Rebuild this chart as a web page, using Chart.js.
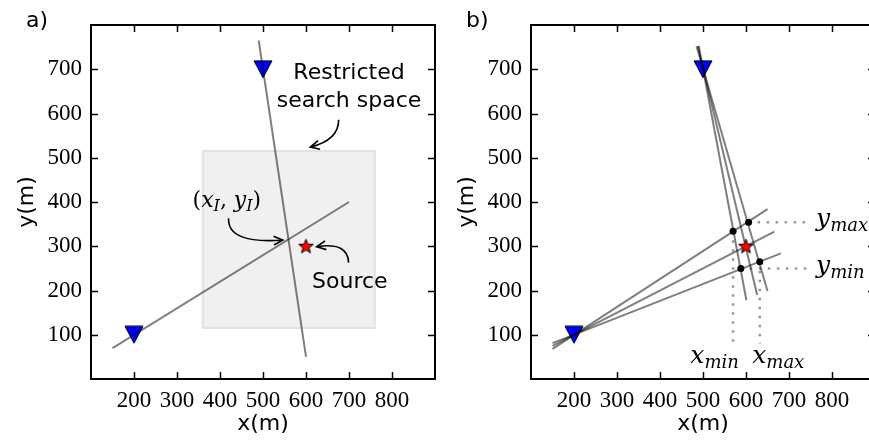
<!DOCTYPE html>
<html>
<head>
<meta charset="utf-8">
<script src="https://cdn.jsdelivr.net/npm/chart.js@4"></script>
<style>
  html, body { margin: 0; padding: 0; background: #fff; overflow: hidden; }
  #wrap { position: relative; width: 869px; height: 442px; overflow: hidden; }
  canvas { position: absolute; top: 0; }
  #ca { left: 0; }
  #cb { left: 440px; }
</style>
</head>
<body>
<div id="wrap">
  <canvas id="ca" width="445" height="442"></canvas>
  <canvas id="cb" width="445" height="442"></canvas>
</div>
<script>
  // ticks shown on both panels
  const xTicks = [200, 300, 400, 500, 600, 700, 800];
  const yTicks = [100, 200, 300, 400, 500, 600, 700];

  // receivers and true source
  const receivers = [{ x: 200, y: 100 }, { x: 500, y: 700 }];
  const source = [{ x: 600, y: 300 }];

  // a) one ray per receiver and the restricted box
  const rayA1 = [{ x: 490, y: 765 }, { x: 600, y: 50 }];
  const rayA2 = [{ x: 150, y: 70 }, { x: 700, y: 400 }];
  const searchBox = [
    { x: 360, y: 115 }, { x: 760, y: 115 }, { x: 760, y: 515 },
    { x: 360, y: 515 }, { x: 360, y: 115 }
  ];

  // b) three rays per receiver
  const raysTop = [
    [{ x: 490, y: 753 }, { x: 601, y: 178 }],
    [{ x: 488, y: 752 }, { x: 626, y: 190 }],
    [{ x: 485, y: 752 }, { x: 650, y: 199 }]
  ];
  const raysLow = [
    [{ x: 150, y: 68 }, { x: 650, y: 384 }],
    [{ x: 150, y: 75 }, { x: 666, y: 333 }],
    [{ x: 150, y: 81 }, { x: 681, y: 284 }]
  ];
  const corners = [{ x: 570, y: 334 }, { x: 606, y: 354 }, { x: 588, y: 250 }, { x: 632, y: 265 }];
  const boundLines = [
    [{ x: 570, y: 334 }, { x: 570, y: 80 }],
    [{ x: 632, y: 265 }, { x: 632, y: 80 }],
    [{ x: 606, y: 354 }, { x: 745, y: 354 }],
    [{ x: 588, y: 250 }, { x: 745, y: 250 }]
  ];

  // annotations (data coordinates)
  const notesA = [
    { text: "Restricted", x: 700, y: 677 },
    { text: "search space", x: 700, y: 615 },
    { text: "Source", x: 702, y: 205 }
  ];
  const arrowsA = [
    { from: { x: 676, y: 586 }, ctrl: { x: 676, y: 540 }, to: { x: 610, y: 524 } },
    { from: { x: 420, y: 363 }, ctrl: { x: 417, y: 305 }, to: { x: 546, y: 314 } },
    { from: { x: 699, y: 263 }, ctrl: { x: 698, y: 310 }, to: { x: 625, y: 299 } }
  ];
  const mathA = [
    { parts: [["(", "r"], ["x", "i"], ["I", "s"], [", ", "r"], ["y", "i"], ["I", "s"], [")", "r"]], x: 416, y: 389, size: 22, align: "center" }
  ];
  const mathB = [
    { parts: [["x", "i"], ["min", "s"]], x: 527, y: 36, size: 25, align: "center" },
    { parts: [["x", "i"], ["max", "s"]], x: 675, y: 36, size: 25, align: "center" },
    { parts: [["y", "i"], ["max", "s"]], x: 763, y: 345, size: 25, align: "left" },
    { parts: [["y", "i"], ["min", "s"]], x: 763, y: 239, size: 25, align: "left" }
  ];

  const RAY = "rgba(0,0,0,0.5)";
  const sans = "'DejaVu Sans', sans-serif";
  const serif = "'Liberation Serif', serif";

  function triangleImg() {
    const c = document.createElement("canvas");
    c.width = 20; c.height = 19;
    const g = c.getContext("2d");
    g.beginPath();
    g.moveTo(1, 1); g.lineTo(19, 1); g.lineTo(10, 18); g.closePath();
    g.fillStyle = "#0000ff"; g.fill();
    g.lineWidth = 1; g.strokeStyle = "#000"; g.stroke();
    return c;
  }

  function starImg() {
    const c = document.createElement("canvas");
    c.width = 17; c.height = 17;
    const g = c.getContext("2d");
    g.beginPath();
    for (let i = 0; i < 10; i++) {
      const r = i % 2 ? 3.2 : 7.6;
      const a = -Math.PI / 2 + i * Math.PI / 5;
      const px = 8.5 + r * Math.cos(a), py = 9 + r * Math.sin(a);
      i ? g.lineTo(px, py) : g.moveTo(px, py);
    }
    g.closePath();
    g.fillStyle = "#ff0000"; g.fill();
    g.lineWidth = 1; g.strokeStyle = "#000"; g.stroke();
    return c;
  }

  const tri = triangleImg();
  const star = starImg();

  function drawMath(ctx, m, sx, sy) {
    const sub = Math.round(m.size * 0.72);
    const fonts = {
      i: `italic ${m.size}px 'DejaVu Serif', serif`,
      r: `${m.size}px 'DejaVu Serif', serif`,
      s: `italic ${sub}px 'DejaVu Serif', serif`
    };
    let w = 0;
    m.parts.forEach(([t, k]) => { ctx.font = fonts[k]; w += ctx.measureText(t).width; });
    let cx = sx.getPixelForValue(m.x);
    if (m.align === "center") cx -= w / 2;
    const y = sy.getPixelForValue(m.y);
    ctx.textAlign = "left";
    ctx.textBaseline = "alphabetic";
    ctx.fillStyle = "#000";
    m.parts.forEach(([t, k]) => {
      ctx.font = fonts[k];
      ctx.fillText(t, cx, k === "s" ? y + m.size * 0.2 : y);
      cx += ctx.measureText(t).width;
    });
  }

  function drawArrow(ctx, p0, c, p1) {
    ctx.beginPath();
    ctx.moveTo(p0.x, p0.y);
    ctx.quadraticCurveTo(c.x, c.y, p1.x, p1.y);
    ctx.stroke();
    const a = Math.atan2(p1.y - c.y, p1.x - c.x);
    const L = 10, s = 0.45;
    ctx.beginPath();
    ctx.moveTo(p1.x - L * Math.cos(a - s), p1.y - L * Math.sin(a - s));
    ctx.lineTo(p1.x, p1.y);
    ctx.lineTo(p1.x - L * Math.cos(a + s), p1.y - L * Math.sin(a + s));
    ctx.stroke();
  }

  // frame with inward ticks on all sides, panel label and annotations
  const framePlugin = {
    id: "frame",
    afterDraw(chart, args, opts) {
      const { ctx, chartArea: a } = chart;
      const sx = chart.scales.x, sy = chart.scales.y;
      const px = (p) => ({ x: sx.getPixelForValue(p.x), y: sy.getPixelForValue(p.y) });
      ctx.save();
      ctx.strokeStyle = "#000";
      ctx.lineWidth = 2;
      ctx.strokeRect(a.left, a.top, a.right - a.left, a.bottom - a.top);
      ctx.lineWidth = 1.5;
      ctx.beginPath();
      xTicks.forEach((v) => {
        const x = Math.round(sx.getPixelForValue(v)) + 0.5;
        ctx.moveTo(x, a.bottom); ctx.lineTo(x, a.bottom - 7);
        ctx.moveTo(x, a.top); ctx.lineTo(x, a.top + 7);
      });
      yTicks.forEach((v) => {
        const y = Math.round(sy.getPixelForValue(v)) + 0.5;
        ctx.moveTo(a.left, y); ctx.lineTo(a.left + 7, y);
        ctx.moveTo(a.right, y); ctx.lineTo(a.right - 7, y);
      });
      ctx.stroke();

      ctx.fillStyle = "#000";
      ctx.font = `22px ${sans}`;
      ctx.textAlign = "left";
      ctx.textBaseline = "alphabetic";
      ctx.fillText(opts.label, a.left - 65, 27);

      (opts.notes || []).forEach((n) => {
        ctx.font = `22px ${sans}`;
        ctx.textAlign = "center";
        ctx.textBaseline = "alphabetic";
        ctx.fillText(n.text, sx.getPixelForValue(n.x), sy.getPixelForValue(n.y));
      });
      ctx.lineWidth = 1.6;
      (opts.arrows || []).forEach((r) => drawArrow(ctx, px(r.from), px(r.ctrl), px(r.to)));
      (opts.math || []).forEach((m) => drawMath(ctx, m, sx, sy));
      ctx.restore();
    }
  };

  function scales() {
    return {
      x: {
        type: "linear", min: 100, max: 900,
        afterBuildTicks: (s) => { s.ticks = xTicks.map((v) => ({ value: v })); },
        afterFit: (s) => { s.height = 63; },
        grid: { display: false, drawTicks: false },
        border: { display: false },
        ticks: { font: { family: serif, size: 23 }, color: "#000", padding: 8, maxRotation: 0, autoSkip: false },
        title: { display: true, text: "x(m)", color: "#000", font: { family: sans, size: 22 }, padding: { top: 0, bottom: 5 } }
      },
      y: {
        type: "linear", min: 0, max: 800,
        afterBuildTicks: (s) => { s.ticks = yTicks.map((v) => ({ value: v })); },
        afterFit: (s) => { s.width = 91; },
        grid: { display: false, drawTicks: false },
        border: { display: false },
        ticks: { font: { family: serif, size: 23 }, color: "#000", padding: 9, autoSkip: false },
        title: { display: true, text: "y(m)", color: "#000", font: { family: sans, size: 22 }, padding: { top: 14, bottom: 0 } }
      }
    };
  }

  function rayDs(data, order) {
    return { data, showLine: true, borderColor: RAY, borderWidth: 2, pointRadius: 0, order };
  }

  function baseOptions(frameOpts) {
    return {
      responsive: false,
      animation: false,
      devicePixelRatio: 1,
      events: [],
      layout: { padding: { left: 0, top: 25, right: 6, bottom: 0 } },
      plugins: { legend: { display: false }, tooltip: { enabled: false }, frame: frameOpts },
      scales: scales()
    };
  }

  new Chart(document.getElementById("ca"), {
    type: "scatter",
    data: {
      datasets: [
        { data: searchBox, showLine: true, fill: "shape", backgroundColor: "#f0f0f0", borderColor: "#e2e2e2", borderWidth: 2, pointRadius: 0, order: 10 },
        { data: receivers, pointStyle: tri, pointRadius: 9, order: 5 },
        rayDs(rayA1, 3),
        rayDs(rayA2, 3),
        { data: source, pointStyle: star, pointRadius: 8, order: 1 }
      ]
    },
    options: baseOptions({ label: "a)", notes: notesA, arrows: arrowsA, math: mathA }),
    plugins: [framePlugin]
  });

  new Chart(document.getElementById("cb"), {
    type: "scatter",
    data: {
      datasets: [
        ...boundLines.map((d) => ({ data: d, showLine: true, borderColor: "#999", borderWidth: 2.5, borderDash: [2.5, 6.5], pointRadius: 0, order: 6 })),
        { data: receivers, pointStyle: tri, pointRadius: 9, order: 5 },
        ...raysTop.map((d) => rayDs(d, 3)),
        ...raysLow.map((d) => rayDs(d, 3)),
        { data: corners, pointStyle: "circle", pointRadius: 3.5, backgroundColor: "#000", borderColor: "#000", borderWidth: 0, order: 2 },
        { data: source, pointStyle: star, pointRadius: 8, order: 1 }
      ]
    },
    options: baseOptions({ label: "b)", math: mathB }),
    plugins: [framePlugin]
  });
</script>
</body>
</html>
